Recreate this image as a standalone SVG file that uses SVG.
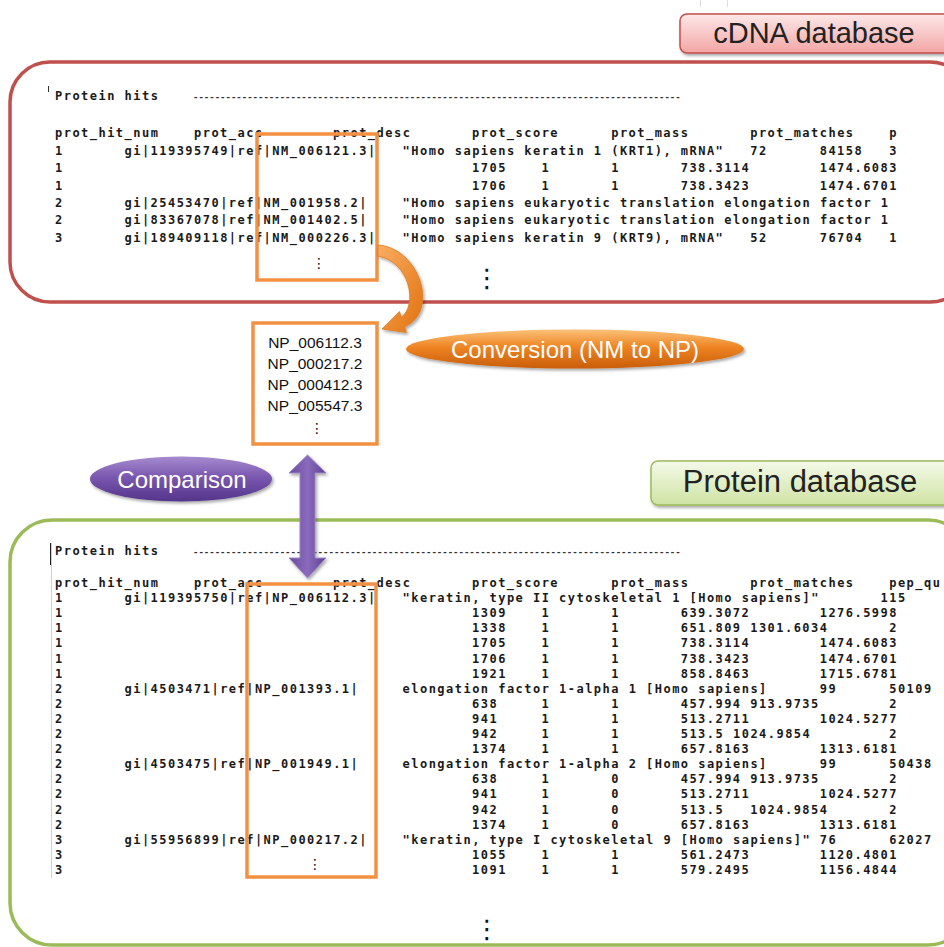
<svg xmlns="http://www.w3.org/2000/svg" width="944" height="947" viewBox="0 0 944 947">
<defs>
<style>
.t{font-family:"DejaVu Sans Mono","Liberation Mono",monospace;font-size:12px;font-weight:bold;letter-spacing:1.47px;fill:#1a1a1a}
.dash{font-family:"DejaVu Sans Mono","Liberation Mono",monospace;font-size:9px;font-weight:bold;letter-spacing:0;fill:#333}
.lbl{font-family:"Liberation Sans","DejaVu Sans",sans-serif;fill:#222}
.wht{font-family:"Liberation Sans","DejaVu Sans",sans-serif;fill:#fff;text-anchor:middle}
.np{font-family:"Liberation Sans","DejaVu Sans",sans-serif;font-size:15.5px;fill:#111;text-anchor:middle}
.dots{font-family:"DejaVu Sans",sans-serif;fill:#111;text-anchor:middle}
.obox{fill:none;stroke:#f39042;stroke-width:3.5}
</style>
<linearGradient id="gPink" x1="0" y1="0" x2="0" y2="1"><stop offset="0" stop-color="#fde9e9"/><stop offset="1" stop-color="#f2a5a4"/></linearGradient>
<linearGradient id="gGreen" x1="0" y1="0" x2="0" y2="1"><stop offset="0" stop-color="#f4f9e9"/><stop offset="1" stop-color="#cfe3a3"/></linearGradient>
<linearGradient id="gOr" x1="0" y1="0" x2="0" y2="1"><stop offset="0" stop-color="#fbc27a"/><stop offset="0.45" stop-color="#ee8422"/><stop offset="1" stop-color="#c95e0b"/></linearGradient>
<linearGradient id="gOrA" x1="0" y1="0" x2="1" y2="1"><stop offset="0" stop-color="#f9ad62"/><stop offset="1" stop-color="#e2720f"/></linearGradient>
<linearGradient id="gPu" x1="0" y1="0" x2="0" y2="1"><stop offset="0" stop-color="#a78bd0"/><stop offset="0.45" stop-color="#7a58b0"/><stop offset="1" stop-color="#54358a"/></linearGradient>
<linearGradient id="gPuA" x1="0" y1="0" x2="1" y2="0"><stop offset="0" stop-color="#6a4a9c"/><stop offset="0.5" stop-color="#8a6bbd"/><stop offset="1" stop-color="#5e4090"/></linearGradient>
<filter id="sh" x="-10%" y="-30%" width="130%" height="170%"><feDropShadow dx="1.5" dy="2" stdDeviation="1.5" flood-color="#000" flood-opacity="0.35"/></filter>
</defs>
<rect width="944" height="947" fill="#fff"/>
<line x1="700.5" y1="0" x2="700.5" y2="7" stroke="#ddd"/>
<line x1="727.5" y1="0" x2="727.5" y2="7" stroke="#ddd"/>

<g id="node-cdna-box">
<rect x="10" y="62" width="960" height="240" rx="40" fill="none" stroke="#c0504d" stroke-width="3.5"/>
<line x1="48.5" y1="86" x2="48.5" y2="92" stroke="#333" stroke-width="1"/>
<text class="t" xml:space="preserve"><tspan x="55" y="100">Protein hits</tspan><tspan class="dash" x="193" y="100">------------------------------------------------------------------------------------------</tspan></text>
<text class="t" y="137"><tspan x="55">prot_hit_num</tspan><tspan x="194">prot_acc</tspan><tspan x="333.1">prot_desc</tspan><tspan x="472.1">prot_score</tspan><tspan x="611.2">prot_mass</tspan><tspan x="750.2">prot_matches</tspan><tspan x="889.2">p</tspan></text>
<text class="t" y="155"><tspan x="55">1</tspan><tspan x="124.5">gi|119395749|ref|NM_006121.3|</tspan><tspan x="402.6">"Homo sapiens keratin 1 (KRT1), mRNA"</tspan><tspan x="750.2">72</tspan><tspan x="819.7">84158</tspan><tspan x="889.2">3</tspan></text>
<text class="t" y="172.3"><tspan x="55">1</tspan><tspan x="472.1">1705</tspan><tspan x="541.6">1</tspan><tspan x="611.2">1</tspan><tspan x="680.7">738.3114</tspan><tspan x="819.7">1474.6083</tspan></text>
<text class="t" y="189.6"><tspan x="55">1</tspan><tspan x="472.1">1706</tspan><tspan x="541.6">1</tspan><tspan x="611.2">1</tspan><tspan x="680.7">738.3423</tspan><tspan x="819.7">1474.6701</tspan></text>
<text class="t" y="207"><tspan x="55">2</tspan><tspan x="124.5">gi|25453470|ref|NM_001958.2|</tspan><tspan x="402.6">"Homo sapiens eukaryotic translation elongation factor 1</tspan></text>
<text class="t" y="224.3"><tspan x="55">2</tspan><tspan x="124.5">gi|83367078|ref|NM_001402.5|</tspan><tspan x="402.6">"Homo sapiens eukaryotic translation elongation factor 1</tspan></text>
<text class="t" y="241.6"><tspan x="55">3</tspan><tspan x="124.5">gi|189409118|ref|NM_000226.3|</tspan><tspan x="402.6">"Homo sapiens keratin 9 (KRT9), mRNA"</tspan><tspan x="750.2">52</tspan><tspan x="819.7">76704</tspan><tspan x="889.2">1</tspan></text>
<text class="dots" x="487" y="287" font-size="26">⋮</text>
</g>

<g id="node-nm-box">
<rect class="obox" x="257" y="134" width="120" height="146"/>
<text class="dots" x="319" y="268" font-size="14">⋮</text>
</g>

<g id="node-cdna-label">
<rect x="680" y="14" width="290" height="39" rx="7" fill="url(#gPink)" stroke="#c0504d" stroke-width="1.5" filter="url(#sh)"/>
<text class="lbl" x="814" y="43" font-size="29" text-anchor="middle">cDNA database</text>
</g>

<g id="node-np-list">
<rect x="253" y="323" width="124" height="121" fill="#fff" stroke="#f39042" stroke-width="3.5"/>
<text class="np" x="315" y="348">NP_006112.3</text>
<text class="np" x="315" y="369">NP_000217.2</text>
<text class="np" x="315" y="390">NP_000412.3</text>
<text class="np" x="315" y="411">NP_005547.3</text>
<text class="dots" x="317" y="433" font-size="14">⋮</text>
</g>

<g id="node-conversion">
<ellipse cx="575" cy="349" rx="169" ry="19.5" fill="url(#gOr)" filter="url(#sh)"/>
<text class="wht" x="575" y="357.5" font-size="24">Conversion (NM to NP)</text>
</g>

<g id="node-protein-box">
<rect x="10" y="520" width="960" height="425" rx="42" fill="none" stroke="#9bbb59" stroke-width="3.5"/>
<line x1="51.5" y1="543" x2="51.5" y2="878" stroke="#d0d0d0" stroke-width="1"/>
<line x1="50.5" y1="543" x2="50.5" y2="565" stroke="#222" stroke-width="1"/>
<text class="t" xml:space="preserve"><tspan x="55" y="555">Protein hits</tspan><tspan class="dash" x="193" y="555">------------------------------------------------------------------------------------------</tspan></text>
<text class="t" y="587"><tspan x="55">prot_hit_num</tspan><tspan x="194">prot_acc</tspan><tspan x="333.1">prot_desc</tspan><tspan x="472.1">prot_score</tspan><tspan x="611.2">prot_mass</tspan><tspan x="750.2">prot_matches</tspan><tspan x="889.2">pep_qu</tspan></text>
<text class="t" y="602.1"><tspan x="55">1</tspan><tspan x="124.5">gi|119395750|ref|NP_006112.3|</tspan><tspan x="402.6">"keratin, type II cytoskeletal 1 [Homo sapiens]"</tspan><tspan x="880.6">115</tspan></text>
<text class="t" y="617.2"><tspan x="55">1</tspan><tspan x="472.1">1309</tspan><tspan x="541.6">1</tspan><tspan x="611.2">1</tspan><tspan x="680.7">639.3072</tspan><tspan x="819.7">1276.5998</tspan></text>
<text class="t" y="632.3"><tspan x="55">1</tspan><tspan x="472.1">1338</tspan><tspan x="541.6">1</tspan><tspan x="611.2">1</tspan><tspan x="680.7">651.809</tspan><tspan x="750.2">1301.6034</tspan><tspan x="889.2">2</tspan></text>
<text class="t" y="647.4"><tspan x="55">1</tspan><tspan x="472.1">1705</tspan><tspan x="541.6">1</tspan><tspan x="611.2">1</tspan><tspan x="680.7">738.3114</tspan><tspan x="819.7">1474.6083</tspan></text>
<text class="t" y="662.5"><tspan x="55">1</tspan><tspan x="472.1">1706</tspan><tspan x="541.6">1</tspan><tspan x="611.2">1</tspan><tspan x="680.7">738.3423</tspan><tspan x="819.7">1474.6701</tspan></text>
<text class="t" y="677.6"><tspan x="55">1</tspan><tspan x="472.1">1921</tspan><tspan x="541.6">1</tspan><tspan x="611.2">1</tspan><tspan x="680.7">858.8463</tspan><tspan x="819.7">1715.6781</tspan></text>
<text class="t" y="692.7"><tspan x="55">2</tspan><tspan x="124.5">gi|4503471|ref|NP_001393.1|</tspan><tspan x="402.6">elongation factor 1-alpha 1 [Homo sapiens]</tspan><tspan x="819.7">99</tspan><tspan x="889.2">50109</tspan></text>
<text class="t" y="707.8"><tspan x="55">2</tspan><tspan x="472.1">638</tspan><tspan x="541.6">1</tspan><tspan x="611.2">1</tspan><tspan x="680.7">457.994</tspan><tspan x="750.2">913.9735</tspan><tspan x="889.2">2</tspan></text>
<text class="t" y="722.9"><tspan x="55">2</tspan><tspan x="472.1">941</tspan><tspan x="541.6">1</tspan><tspan x="611.2">1</tspan><tspan x="680.7">513.2711</tspan><tspan x="819.7">1024.5277</tspan></text>
<text class="t" y="738"><tspan x="55">2</tspan><tspan x="472.1">942</tspan><tspan x="541.6">1</tspan><tspan x="611.2">1</tspan><tspan x="680.7">513.5</tspan><tspan x="733">1024.9854</tspan><tspan x="889.2">2</tspan></text>
<text class="t" y="753.1"><tspan x="55">2</tspan><tspan x="472.1">1374</tspan><tspan x="541.6">1</tspan><tspan x="611.2">1</tspan><tspan x="680.7">657.8163</tspan><tspan x="819.7">1313.6181</tspan></text>
<text class="t" y="768.2"><tspan x="55">2</tspan><tspan x="124.5">gi|4503475|ref|NP_001949.1|</tspan><tspan x="402.6">elongation factor 1-alpha 2 [Homo sapiens]</tspan><tspan x="819.7">99</tspan><tspan x="889.2">50438</tspan></text>
<text class="t" y="783.3"><tspan x="55">2</tspan><tspan x="472.1">638</tspan><tspan x="541.6">1</tspan><tspan x="611.2">0</tspan><tspan x="680.7">457.994</tspan><tspan x="750.2">913.9735</tspan><tspan x="889.2">2</tspan></text>
<text class="t" y="798.4"><tspan x="55">2</tspan><tspan x="472.1">941</tspan><tspan x="541.6">1</tspan><tspan x="611.2">0</tspan><tspan x="680.7">513.2711</tspan><tspan x="819.7">1024.5277</tspan></text>
<text class="t" y="813.5"><tspan x="55">2</tspan><tspan x="472.1">942</tspan><tspan x="541.6">1</tspan><tspan x="611.2">0</tspan><tspan x="680.7">513.5</tspan><tspan x="750.2">1024.9854</tspan><tspan x="889.2">2</tspan></text>
<text class="t" y="828.6"><tspan x="55">2</tspan><tspan x="472.1">1374</tspan><tspan x="541.6">1</tspan><tspan x="611.2">0</tspan><tspan x="680.7">657.8163</tspan><tspan x="819.7">1313.6181</tspan></text>
<text class="t" y="843.7"><tspan x="55">3</tspan><tspan x="124.5">gi|55956899|ref|NP_000217.2|</tspan><tspan x="402.6">"keratin, type I cytoskeletal 9 [Homo sapiens]"</tspan><tspan x="819.7">76</tspan><tspan x="889.2">62027</tspan></text>
<text class="t" y="858.8"><tspan x="55">3</tspan><tspan x="472.1">1055</tspan><tspan x="541.6">1</tspan><tspan x="611.2">1</tspan><tspan x="680.7">561.2473</tspan><tspan x="819.7">1120.4801</tspan></text>
<text class="t" y="873.9"><tspan x="55">3</tspan><tspan x="472.1">1091</tspan><tspan x="541.6">1</tspan><tspan x="611.2">1</tspan><tspan x="680.7">579.2495</tspan><tspan x="819.7">1156.4844</tspan></text>
<text class="dots" x="487" y="938" font-size="26">⋮</text>
</g>

<g id="node-np-box">
<rect class="obox" x="247" y="584" width="129" height="293"/>
<text class="dots" x="315" y="869" font-size="14">⋮</text>
</g>

<g id="node-protein-label">
<rect x="651" y="461" width="320" height="44" rx="7" fill="url(#gGreen)" stroke="#9bbb59" stroke-width="1.5" filter="url(#sh)"/>
<text class="lbl" x="800" y="492" font-size="31" text-anchor="middle">Protein database</text>
</g>

<g id="node-comparison">
<ellipse cx="181" cy="479" rx="91" ry="22.5" fill="url(#gPu)" filter="url(#sh)"/>
<text class="wht" x="182" y="487.5" font-size="24">Comparison</text>
</g>

<g id="connectors">
<path id="conn-convert" d="M378 245 C420 248 440 312 404.5 326.8 L406.4 332.5 L382 329 L399.4 311.5 L401.3 317.2 C418 305 410 262 378 256 Z" fill="url(#gOrA)" stroke="#e07a20" stroke-width="0.8" filter="url(#sh)"/>
<path id="conn-compare" d="M307.5 455 L326 473 L315 473 L315 558 L326 558 L307.5 578 L289 558 L300 558 L300 473 L289 473 Z" fill="url(#gPuA)" stroke="#9c86c6" stroke-width="1" filter="url(#sh)"/>
</g>
</svg>
